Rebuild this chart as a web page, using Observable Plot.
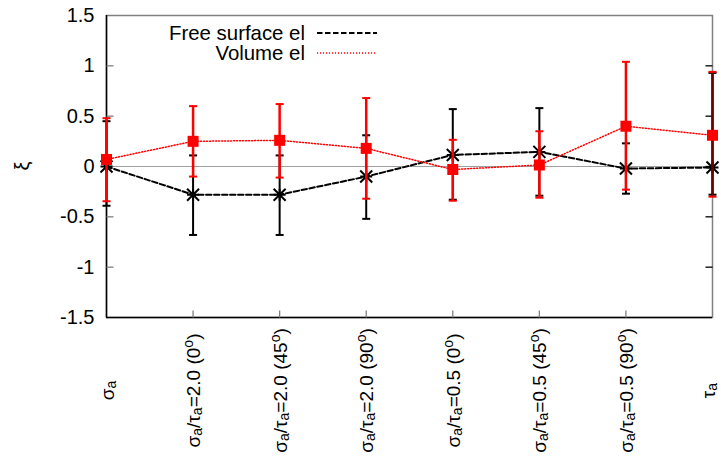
<!DOCTYPE html>
<html>
<head>
<meta charset="utf-8">
<script src="https://cdn.jsdelivr.net/npm/d3@7"></script>
<script src="https://cdn.jsdelivr.net/npm/@observablehq/plot@0.6"></script>
<style>
  html, body { margin: 0; padding: 0; background: #fff; }
  #chart { position: relative; width: 721px; height: 464px; }
  #chart svg { font-family: "Liberation Sans", Arial, sans-serif; }
</style>
</head>
<body>
<div id="chart"></div>
<script>
// ---- data ----
// tick labels: "_" marks a subscript character, "^" a superscript character
const categoryLabels = [
  "σ_a",
  "σ_a/τ_a=2.0 (0^o)",
  "σ_a/τ_a=2.0 (45^o)",
  "σ_a/τ_a=2.0 (90^o)",
  "σ_a/τ_a=0.5 (0^o)",
  "σ_a/τ_a=0.5 (45^o)",
  "σ_a/τ_a=0.5 (90^o)",
  "τ_a"
];
const categoryIndex = [0, 1, 2, 3, 4, 5, 6, 7];

const seriesNames = ["Free surface el", "Volume el"];
const yLabel = "ξ";

const freeValue = [0.00, -0.28, -0.28, -0.10, 0.115, 0.145, -0.02, -0.01];
const freeLow   = [-0.39, -0.68, -0.68, -0.52, -0.33, -0.29, -0.27, -0.28];
const freeHigh  = [0.45, 0.11, 0.11, 0.31, 0.57, 0.58, 0.23, 0.93];

const volValue  = [0.07, 0.25, 0.26, 0.18, -0.03, 0.015, 0.40, 0.31];
const volLow    = [-0.345, -0.10, -0.11, -0.32, -0.34, -0.31, -0.23, -0.30];
const volHigh   = [0.48, 0.60, 0.62, 0.68, 0.265, 0.35, 1.04, 0.94];

const yTicks = [-1.5, -1, -0.5, 0, 0.5, 1, 1.5];

// ---- tables built from the arrays ----
const free = categoryIndex.map(i => ({i, v: freeValue[i], lo: freeLow[i], hi: freeHigh[i]}));
const vol  = categoryIndex.map(i => ({i, v: volValue[i], lo: volLow[i], hi: volHigh[i]}));
const lastIndex = categoryIndex.length - 1;

// ---- custom symbols ----
const starSym = {draw(ctx, size) {
  const r = Math.sqrt(size / Math.PI);
  ctx.moveTo(-r, -r); ctx.lineTo(r, r);
  ctx.moveTo(-r, r); ctx.lineTo(r, -r);
  ctx.moveTo(-r, 0); ctx.lineTo(r, 0);
  ctx.moveTo(0, -r); ctx.lineTo(0, r);
}};
const squareSym = {draw(ctx, size) {
  const r = Math.sqrt(size / Math.PI);
  ctx.rect(-r, -r, 2 * r, 2 * r);
}};
const hLine = {draw(ctx, size) {
  const r = Math.sqrt(size / Math.PI);
  ctx.moveTo(-r, 0); ctx.lineTo(r, 0);
}};
const vLine = {draw(ctx, size) {
  const r = Math.sqrt(size / Math.PI);
  ctx.moveTo(0, -r); ctx.lineTo(0, r);
}};

const FONT = "Liberation Sans, Arial, sans-serif";
const GRAY = "#808080";
const RED_DASH = "1.1,1.9";
const BLACK_DASH = "5.5,2.5";

const xLabelOpts = {x: d => d, frameAnchor: "bottom", dy: 73, rotate: -90, text: d => categoryLabels[d],
  textAnchor: "middle", lineAnchor: "middle", fontSize: 19, fill: "#000", className: "xlab"};

const plot = Plot.plot({
  width: 721,
  height: 464,
  marginLeft: 106,
  marginRight: 9,
  marginTop: 15,
  marginBottom: 147,
  style: {fontFamily: FONT, fontSize: "20px", color: "#000", background: "#fff"},
  x: {type: "linear", domain: [0, 7], axis: null},
  y: {domain: [-1.5, 1.5], axis: null},
  marks: [
    // zero line
    Plot.ruleY([0], {stroke: "#a0a0a0", strokeWidth: 1}),
    // frame: gray top/right, black left/bottom
    Plot.frame({stroke: GRAY, strokeWidth: 1.5}),
    Plot.ruleY([-1.5], {stroke: "#000", strokeWidth: 1.5}),
    Plot.ruleX([0], {stroke: "#000", strokeWidth: 1.5}),
    // y ticks (inward, both sides)
    Plot.dot(yTicks.slice(1, -1), {y: d => d, frameAnchor: "left", dx: 3.5, r: 3.5, symbol: hLine, stroke: GRAY, strokeWidth: 1.3}),
    Plot.dot(yTicks.slice(1, -1), {y: d => d, frameAnchor: "right", dx: -3.5, r: 3.5, symbol: hLine, stroke: "#000", strokeWidth: 1.3}),
    // y tick labels
    Plot.text(yTicks, {y: d => d, frameAnchor: "left", dx: -12, text: d => String(d), textAnchor: "end", fontSize: 20, fill: "#000"}),
    // x ticks (inward)
    Plot.dot(categoryIndex.slice(1, -1), {x: d => d, frameAnchor: "bottom", dy: -3.5, r: 3.5, symbol: vLine, stroke: GRAY, strokeWidth: 1.3}),
    // x tick labels (rotated); the last one is nudged inside the page edge
    Plot.text(categoryIndex.slice(0, lastIndex), {...xLabelOpts, dx: 1}),
    Plot.text(categoryIndex.slice(lastIndex), {...xLabelOpts, dx: -4}),

    // ---- Free surface el (black) ----
    Plot.ruleX(free, {x: "i", y1: "lo", y2: "hi", stroke: "#000", strokeWidth: 2}),
    Plot.dot(free, {x: "i", y: "lo", r: 4, symbol: hLine, stroke: "#000", strokeWidth: 2}),
    Plot.dot(free, {x: "i", y: "hi", r: 4, symbol: hLine, stroke: "#000", strokeWidth: 2}),
    Plot.line(free, {x: "i", y: "v", stroke: "#000", strokeWidth: 2, strokeDasharray: BLACK_DASH}),
    Plot.dot(free, {x: "i", y: "v", r: 6, symbol: starSym, stroke: "#000", strokeWidth: 2}),

    // ---- Volume el (red) ----
    Plot.ruleX(vol, {x: "i", y1: "lo", y2: "hi", stroke: d => d.i === lastIndex ? "#6e0000" : "#ff0000", strokeWidth: 2.5}),
    Plot.dot(vol, {x: "i", y: "lo", r: 4, symbol: hLine, stroke: "#ff0000", strokeWidth: 2}),
    Plot.dot(vol, {x: "i", y: "hi", r: 4, symbol: hLine, stroke: "#ff0000", strokeWidth: 2}),
    Plot.line(vol, {x: "i", y: "v", stroke: "#ff0000", strokeWidth: 1.5, strokeDasharray: RED_DASH}),
    Plot.dot(vol, {x: "i", y: "v", r: 5.5, symbol: squareSym, fill: "#ff0000", stroke: "none"})
  ]
});

// rich text for x labels: subscripts / superscripts as tspans
d3.select(plot).selectAll(".xlab text").each(function() {
  const raw = this.textContent;
  const t = d3.select(this);
  t.text(null);
  let shift = 0;
  for (let k = 0; k < raw.length; k++) {
    const c = raw[k];
    if ((c === "_" || c === "^") && k + 1 < raw.length) {
      const want = c === "_" ? 2 : -7;
      t.append("tspan").attr("dy", want - shift).attr("font-size", 14).text(raw[k + 1]);
      shift = want;
      k++;
    } else {
      const sp = t.append("tspan").text(c);
      if (shift !== 0) { sp.attr("dy", -shift); shift = 0; }
    }
  }
});

const svg = d3.select(plot);

// y-axis label (rotated)
svg.append("text")
  .attr("transform", "translate(22,166) rotate(-90)")
  .attr("text-anchor", "middle").attr("dy", "0.35em")
  .attr("font-family", FONT).attr("font-size", 20).attr("fill", "#000")
  .text(yLabel);

// legend (inside the plot area, top)
const lg = svg.append("g").attr("font-family", FONT).attr("font-size", 20.4);
const legendRows = [
  {name: seriesNames[0], y: 33, stroke: "#000", width: 2, dash: BLACK_DASH},
  {name: seriesNames[1], y: 53, stroke: "#ff0000", width: 1.5, dash: RED_DASH}
];
legendRows.forEach(r => {
  lg.append("text").attr("x", 305).attr("y", r.y).attr("dy", "0.35em")
    .attr("text-anchor", "end").attr("fill", "#000").text(r.name);
  lg.append("line").attr("x1", 317).attr("x2", 377).attr("y1", r.y).attr("y2", r.y)
    .attr("stroke", r.stroke).attr("stroke-width", r.width).attr("stroke-dasharray", r.dash);
});

document.getElementById("chart").appendChild(plot);
</script>
</body>
</html>
